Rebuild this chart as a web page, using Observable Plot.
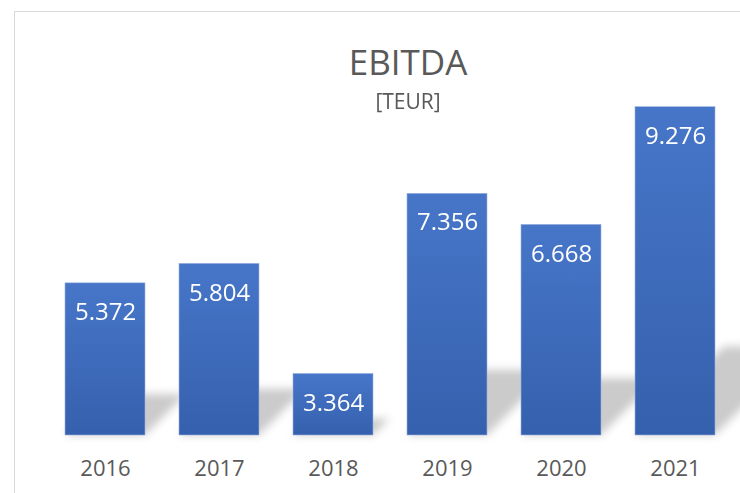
<!DOCTYPE html>
<html>
<head>
<meta charset="utf-8">
<script src="https://cdn.jsdelivr.net/npm/d3@7"></script>
<script src="https://cdn.jsdelivr.net/npm/@observablehq/plot@0.6"></script>
<style>
  html, body { margin: 0; padding: 0; background: #fff; overflow: hidden; }
  #wrap { position: relative; width: 740px; height: 493px; overflow: hidden; font-family: "Open Sans", sans-serif; }
  #frame { position: absolute; left: 14px; top: 11px; width: 800px; height: 520px; border-left: 1px solid #d9d9d9; border-top: 1px solid #d9d9d9; box-sizing: border-box; }
  .ttl { position: absolute; left: 408px; transform: translateX(-50%); color: #595959; white-space: nowrap; line-height: 1; }
  #title { top: 44px; font-size: 35px; }
  #subtitle { top: 91px; font-size: 21px; }
  #chart { position: absolute; left: 0; top: 0; }
</style>
</head>
<body>
<div id="wrap">
  <div id="frame"></div>
  <div id="chart"></div>
  <div id="title" class="ttl">EBITDA</div>
  <div id="subtitle" class="ttl">[TEUR]</div>
</div>
<script>
const years = ["2016", "2017", "2018", "2019", "2020", "2021"];
const ebitda = [5372, 5804, 3364, 7356, 6668, 9276];
const yMin = 2000;
const yMax = 10000;

const data = years.map((y, i) => ({year: y, value: ebitda[i]}));
const de = d3.formatLocale({decimal: ",", thousands: ".", grouping: [3], currency: ["", " €"]});
const fmt = de.format(",.0f");

const plot = Plot.plot({
  width: 740,
  height: 493,
  marginLeft: 46,
  marginRight: 5,
  marginTop: 74,
  marginBottom: 58,
  style: {fontFamily: "'Open Sans', sans-serif", background: "transparent"},
  x: {domain: years, paddingInner: 0.296, paddingOuter: 0.148, label: null},
  y: {domain: [yMin, yMax], axis: null},
  marks: [
    Plot.rectY(data, {x: "year", y1: yMin, y2: "value", fill: "#cbcbcb"}),
    Plot.rectY(data, {x: "year", y1: yMin, y2: "value", fill: "#4472c4", stroke: "#9db3de", strokeWidth: 0.6}),
    Plot.text(data, {x: "year", y: "value", text: d => fmt(d.value), dy: 29, fill: "white", fontSize: 24}),
    Plot.axisX({tickSize: 0, tickPadding: 25, fontSize: 22, fill: "#595959", label: null})
  ]
});

const svg = d3.select(plot);
const defs = svg.insert("defs", ":first-child");
const grad = defs.append("linearGradient").attr("id", "barGrad").attr("x1", 0).attr("y1", 0).attr("x2", 0).attr("y2", 1);
grad.append("stop").attr("offset", "0%").attr("stop-color", "#4776c9");
grad.append("stop").attr("offset", "100%").attr("stop-color", "#3560ad");
const f = defs.append("filter").attr("id", "shBlur").attr("x", "-50%").attr("y", "-50%").attr("width", "200%").attr("height", "200%");
f.append("feGaussianBlur").attr("stdDeviation", 4);

const groups = svg.selectAll("g").filter(function() { return d3.select(this).selectAll(":scope > rect").size() === years.length; }).nodes();
const shadowG = d3.select(groups[0]);
const barG = d3.select(groups[1]);

barG.selectAll("rect").attr("fill", "url(#barGrad)");
shadowG.selectAll("rect").each(function() {
  const r = d3.select(this);
  const yb = +r.attr("y") + +r.attr("height");
  r.attr("transform", `translate(0,${yb}) skewX(-45) scale(1,0.27) translate(0,${-yb})`);
});
shadowG.attr("filter", "url(#shBlur)");

document.getElementById("chart").appendChild(plot);
</script>
</body>
</html>
